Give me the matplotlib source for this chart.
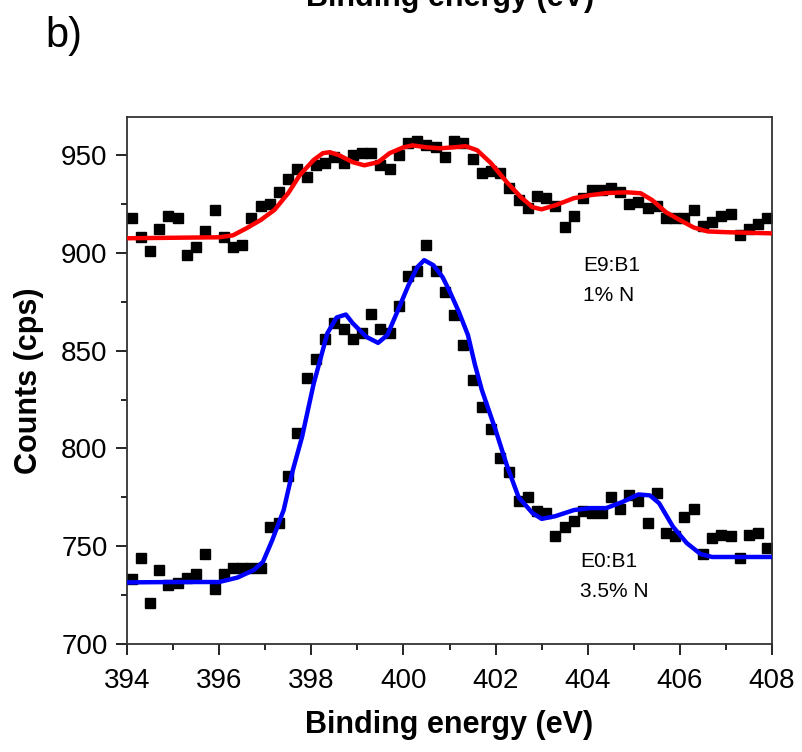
import numpy as np
import matplotlib.pyplot as plt
from matplotlib.ticker import MultipleLocator

plt.rcParams['font.family'] = ['Liberation Sans', 'DejaVu Sans']

# Data: measured points (binding energy grid, eV)
energy = [394.1, 394.3, 394.5, 394.7, 394.9, 395.1, 395.3, 395.5, 395.7, 395.9,
          396.1, 396.3, 396.5, 396.7, 396.9, 397.1, 397.3, 397.5, 397.7, 397.9,
          398.1, 398.3, 398.5, 398.7, 398.9, 399.1, 399.3, 399.5, 399.7, 399.9,
          400.1, 400.3, 400.5, 400.7, 400.9, 401.1, 401.3, 401.5, 401.7, 401.9,
          402.1, 402.3, 402.5, 402.7, 402.9, 403.1, 403.3, 403.5, 403.7, 403.9,
          404.1, 404.3, 404.5, 404.7, 404.9, 405.1, 405.3, 405.5, 405.7, 405.9,
          406.1, 406.3, 406.5, 406.7, 406.9, 407.1, 407.3, 407.5, 407.7, 407.9]

# E9:B1 (1% N) counts
counts_e9 = [918, 908, 901, 912, 919, 918, 899, 903, 911, 922,
             908, 903, 904, 918, 924, 925, 931, 938, 943, 939,
             945, 946, 949, 946, 950, 951, 951, 945, 943, 950,
             956, 957, 955, 954, 949, 957, 956, 948, 941, 942,
             941, 933, 927, 923, 929, 928, 924, 913, 919, 928,
             932, 932, 933, 931, 925, 926, 923, 924, 918, 918,
             918, 922, 914, 916, 919, 920, 909, 912, 915, 918]

# E0:B1 (3.5% N) counts
counts_e0 = [733, 744, 721, 738, 730, 731, 734, 736, 746, 728,
             736, 739, 739, 739, 739, 760, 762, 786, 808, 836,
             846, 856, 864, 861, 856, 859, 869, 861, 859, 873,
             888, 891, 904, 891, 880, 868, 853, 835, 821, 810,
             795, 788, 773, 775, 768, 767, 755, 760, 763, 768,
             767, 767, 775, 769, 776, 773, 762, 777, 757, 755,
             765, 769, 746, 754, 756, 755, 744, 756, 757, 749]

# Fit envelopes
fit_e9_x = [394.0, 396.0, 396.3, 396.6, 396.9, 397.2, 397.5, 397.75, 398.05, 398.25,
            398.4, 398.6, 398.9, 399.15, 399.45, 399.7, 400.0, 400.2, 400.5, 400.8,
            401.1, 401.35, 401.6, 401.9, 402.25, 402.55, 402.8, 403.0, 403.3, 403.7,
            404.05, 404.4, 404.85, 405.15, 405.4, 405.7, 406.0, 406.3, 406.6, 407.0, 408.0]
fit_e9_y = [907.5, 908, 909, 912.7, 916.8, 922, 930.6, 939.8, 947.5, 951,
            951.5, 950, 946.4, 944.8, 946.4, 951, 954, 955, 954, 953.5,
            954, 954.6, 952.5, 945.9, 936, 928.5, 923.4, 922.3, 924.4, 928,
            929.5, 930.6, 931, 930.5, 927, 920.8, 916.8, 913, 911, 910.6, 910]

fit_e0_x = [394.0, 395.0, 396.0, 396.4, 396.75, 396.95, 397.15, 397.4, 397.6, 397.8,
            398.05, 398.35, 398.55, 398.75, 398.9, 399.2, 399.45, 399.65, 399.85, 400.1,
            400.3, 400.45, 400.65, 400.85, 401.0, 401.2, 401.4, 401.55, 401.7, 402.0,
            402.25, 402.5, 402.8, 403.0, 403.3, 403.7, 404.05, 404.4, 404.75, 405.1,
            405.35, 405.55, 405.85, 406.15, 406.45, 406.7, 407.3, 408.0]
fit_e0_y = [731.5, 731.7, 731.7, 734, 737.8, 742, 753, 768.5, 789, 806,
            833, 859, 867, 868.5, 864, 857, 854, 858, 869, 883,
            892.7, 896.3, 893.7, 887.6, 880.5, 870, 858, 843, 830, 809.4,
            791, 775, 767, 764, 765.4, 768.5, 769.5, 769.5, 772.6, 776.5,
            776, 772, 760, 751.6, 746, 744.5, 744.5, 744.5]

fig = plt.figure(figsize=(8.02, 7.52), dpi=100)
ax = fig.add_axes([0.1584, 0.1436, 0.8042, 0.7008])

ax.plot(energy, counts_e9, 's', color='black', markersize=7.5, zorder=2)
ax.plot(energy, counts_e0, 's', color='black', markersize=7.5, zorder=2)
ax.plot(fit_e9_x, fit_e9_y, color='red', linewidth=3.2, zorder=3)
ax.plot(fit_e0_x, fit_e0_y, color='blue', linewidth=3.2, zorder=3)

ax.set_xlim(394, 408)
ax.set_ylim(700, 969.5)
ax.xaxis.set_major_locator(MultipleLocator(2))
ax.xaxis.set_minor_locator(MultipleLocator(1))
ax.yaxis.set_major_locator(MultipleLocator(50))
ax.yaxis.set_minor_locator(MultipleLocator(25))
ax.tick_params(which='major', direction='out', length=8, width=1.2, labelsize=20, pad=6)
ax.tick_params(axis='x', which='major', pad=9)
ax.tick_params(which='minor', direction='out', length=4.3, width=1.2)
for s in ax.spines.values():
    s.set_linewidth(1.3)
    s.set_color('#333333')

ax.set_xlabel('Binding energy (eV)', fontsize=22, fontweight='bold', labelpad=12)
ax.set_ylabel('Counts (cps)', fontsize=22, fontweight='bold', labelpad=12)

ax.text(403.9, 893.7, 'E9:B1', fontsize=15, va='center', ha='left')
ax.text(403.9, 878.4, '1% N', fontsize=15, va='center', ha='left')
ax.text(403.83, 742.4, 'E0:B1', fontsize=15, va='center', ha='left')
ax.text(403.83, 726.6, '3.5% N', fontsize=15, va='center', ha='left')

# panel label and clipped label of the panel above
fig.text(0.056, 0.952, 'b)', fontsize=30, va='center', ha='left')
fig.text(0.561, 1 - 6 / 752, 'Binding energy (eV)', fontsize=22, fontweight='bold',
         ha='center', va='baseline')

fig.savefig('out.png', dpi=100)
